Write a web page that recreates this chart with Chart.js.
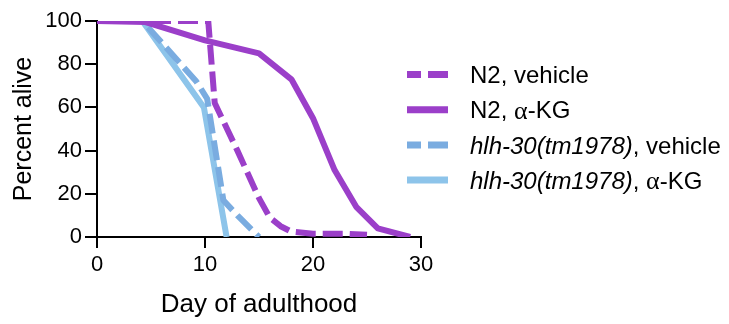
<!DOCTYPE html>
<html><head><meta charset="utf-8">
<script src="https://cdn.jsdelivr.net/npm/chart.js@4/dist/chart.umd.min.js"></script>
<style>html,body{margin:0;padding:0;background:#fff}canvas{display:block}</style>
</head><body>
<canvas id="c" width="729" height="324"></canvas>
<script>
// ---- data ----
const seriesNames = ['N2, vehicle', 'N2, α-KG', 'hlh-30(tm1978), vehicle', 'hlh-30(tm1978), α-KG'];
const n2VehicleDays  = [0, 10.3, 10.9, 13, 15, 16, 17, 18, 20, 23, 25];
const n2VehicleAlive = [100, 100, 62, 40, 18, 9, 5, 2.5, 1.5, 1.5, 1];
const n2AkgDays  = [0, 4.5, 10, 15, 18, 19, 20, 21, 22, 24, 26, 29];
const n2AkgAlive = [100, 99.5, 91, 85, 73, 64, 55, 43, 31, 14, 4, 0];
const hlhVehicleDays  = [0, 4.2, 9.2, 10.2, 11.7, 13, 15];
const hlhVehicleAlive = [100, 100, 72, 64, 17, 10, 0];
const hlhAkgDays  = [0, 4.2, 9.9, 12];
const hlhAkgAlive = [100, 100, 60, 0];
const xTickValues = [0, 10, 20, 30];
const yTickValues = [0, 20, 40, 60, 80, 100];
const xTitle = 'Day of adulthood';
const yTitle = 'Percent alive';

const PURPLE = '#9B3FC9';
const BLUE_DASH = '#7AACE0';
const BLUE_SOLID = '#8DC4EA';
const SANS = "'Liberation Sans', Arial, sans-serif";
const SERIF = "'Liberation Serif', 'Times New Roman', serif";

const pts = (xs, ys) => xs.map((x, i) => ({x, y: ys[i]}));

const datasets = [
  {label: seriesNames[0], data: pts(n2VehicleDays, n2VehicleAlive), borderColor: PURPLE, borderDash: [20, 7]},
  {label: seriesNames[1], data: pts(n2AkgDays, n2AkgAlive), borderColor: PURPLE, borderDash: []},
  {label: seriesNames[2], data: pts(hlhVehicleDays, hlhVehicleAlive), borderColor: BLUE_DASH, borderDash: [20, 7]},
  {label: seriesNames[3], data: pts(hlhAkgDays, hlhAkgAlive), borderColor: BLUE_SOLID, borderDash: []}
].map(d => Object.assign(d, {borderWidth: 6, pointRadius: 0, tension: 0, fill: false,
  borderCapStyle: 'butt', borderJoinStyle: 'round'}));

// split a label into styled segments: italic strain name, serif alpha
function segments(label) {
  const out = [];
  let rest = label;
  const m = rest.match(/^(hlh-30\(tm1978\))(.*)$/);
  if (m) { out.push({t: m[1], font: 'italic 24px ' + SANS}); rest = m[2]; }
  rest.split(/(α)/).forEach(s => {
    if (!s) return;
    out.push({t: s, font: s === 'α' ? '26px ' + SERIF : '24px ' + SANS});
  });
  return out;
}

const legendPlugin = {
  id: 'customLegend',
  afterDraw(chart) {
    const ctx = chart.ctx;
    const ca = chart.chartArea;
    const x0 = ca.right - 14, x1 = ca.right + 27, tx = ca.right + 49;
    chart.data.datasets.forEach((ds, i) => {
      const y = 74.5 + i * 35.2;
      ctx.save();
      ctx.strokeStyle = ds.borderColor;
      ctx.lineWidth = 7;
      ctx.lineCap = 'butt';
      if (ds.borderDash.length) { ctx.setLineDash([20, 7]); ctx.lineDashOffset = 6; }
      ctx.beginPath(); ctx.moveTo(x0 + 0, y); ctx.lineTo(x1, y); ctx.stroke();
      ctx.setLineDash([]);
      ctx.fillStyle = '#000';
      ctx.textBaseline = 'middle';
      let x = tx;
      segments(ds.label).forEach(seg => {
        ctx.font = seg.font;
        ctx.fillText(seg.t, x, y + 2);
        x += ctx.measureText(seg.t).width;
      });
      ctx.restore();
    });
  }
};

Chart.defaults.font.family = SANS;
Chart.defaults.color = '#000';

new Chart(document.getElementById('c'), {
  type: 'line',
  data: {datasets},
  plugins: [legendPlugin],
  options: {
    responsive: false,
    devicePixelRatio: 1,
    animation: false,
    layout: {padding: {top: 21, right: 308, bottom: 0, left: 0}},
    plugins: {legend: {display: false}, tooltip: {enabled: false}},
    scales: {
      x: {
        type: 'linear', min: 0, max: 30,
        afterBuildTicks: s => { s.ticks = xTickValues.map(v => ({value: v})); },
        afterFit: s => { s.height = 87; },
        ticks: {font: {size: 22}, color: '#000', padding: 4, maxRotation: 0},
        grid: {drawOnChartArea: false, drawTicks: true, tickLength: 11, color: '#000', lineWidth: 2},
        border: {display: true, color: '#000', width: 2},
        title: {display: true, text: xTitle, font: {size: 26, lineHeight: 1.2}, color: '#000', padding: {top: 0, bottom: 4}}
      },
      y: {
        min: 0, max: 100,
        afterBuildTicks: s => { s.ticks = yTickValues.map(v => ({value: v})); },
        afterFit: s => { s.width = 97; },
        ticks: {font: {size: 22}, color: '#000', padding: 3},
        grid: {drawOnChartArea: false, drawTicks: true, tickLength: 12, color: '#000', lineWidth: 2},
        border: {display: true, color: '#000', width: 2},
        title: {display: true, text: yTitle, font: {size: 25, lineHeight: 1.2}, color: '#000', padding: {top: 9, bottom: 0}}
      }
    }
  }
});
</script>
</body></html>
